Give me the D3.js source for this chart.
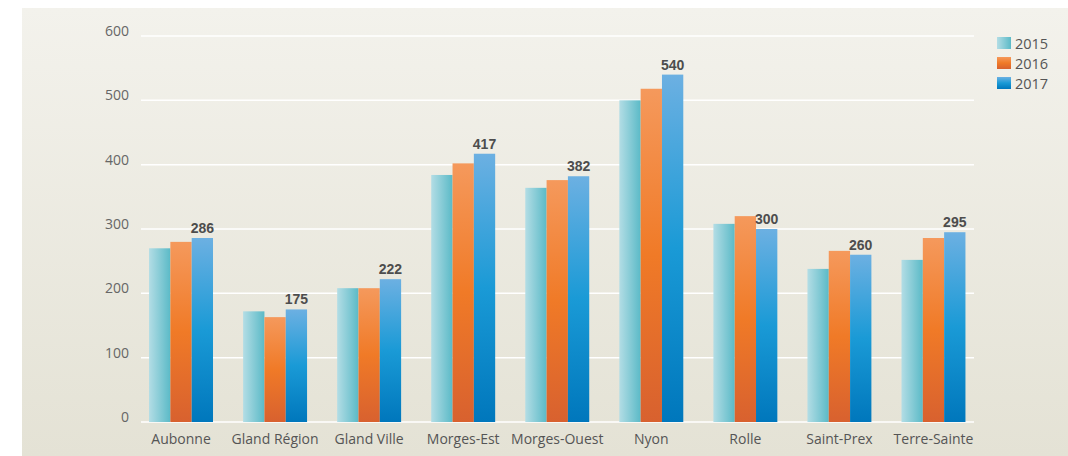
<!DOCTYPE html>
<html>
<head>
<meta charset="utf-8">
<script src="https://cdn.jsdelivr.net/npm/d3@7"></script>
<style>
body { margin: 0; background: #fff; }
svg { display: block; }
</style>
</head>
<body>
<div id="chart"></div>
<script>
var categories = ["Aubonne", "Gland Région", "Gland Ville", "Morges-Est", "Morges-Ouest", "Nyon", "Rolle", "Saint-Prex", "Terre-Sainte"];
var years = ["2015", "2016", "2017"];
var values2015 = [270, 172, 208, 384, 364, 500, 308, 238, 252];
var values2016 = [280, 163, 208, 402, 376, 518, 320, 266, 286];
var values2017 = [286, 175, 222, 417, 382, 540, 300, 260, 295];
var yTicks = [0, 100, 200, 300, 400, 500, 600];

var W = 1068, H = 456;

var svg = d3.select("#chart").append("svg")
  .attr("width", W)
  .attr("height", H);

var defs = svg.append("defs");

// panel background
var bg = defs.append("linearGradient").attr("id", "bg")
  .attr("x1", 0).attr("y1", 0).attr("x2", 0).attr("y2", 1);
bg.append("stop").attr("offset", "0%").attr("stop-color", "#f3f2ec");
bg.append("stop").attr("offset", "100%").attr("stop-color", "#e4e2d5");

var g15 = defs.append("linearGradient").attr("id", "g2015")
  .attr("x1", 0).attr("y1", 0).attr("x2", 1).attr("y2", 0);
g15.append("stop").attr("offset", "0%").attr("stop-color", "#b3dde5");
g15.append("stop").attr("offset", "100%").attr("stop-color", "#5bbac7");

var g16 = defs.append("linearGradient").attr("id", "g2016")
  .attr("x1", 0).attr("y1", 0).attr("x2", 0).attr("y2", 1);
g16.append("stop").attr("offset", "0%").attr("stop-color", "#f5995c");
g16.append("stop").attr("offset", "50%").attr("stop-color", "#f07a27");
g16.append("stop").attr("offset", "100%").attr("stop-color", "#d8612f");

var g17 = defs.append("linearGradient").attr("id", "g2017")
  .attr("x1", 0).attr("y1", 0).attr("x2", 0).attr("y2", 1);
g17.append("stop").attr("offset", "0%").attr("stop-color", "#6cb0e2");
g17.append("stop").attr("offset", "50%").attr("stop-color", "#1a9ad6");
g17.append("stop").attr("offset", "100%").attr("stop-color", "#0077bc");

svg.append("rect")
  .attr("x", 22).attr("y", 8)
  .attr("width", W - 22).attr("height", H - 8)
  .attr("fill", "url(#bg)");

var x0 = d3.scaleBand()
  .domain(categories)
  .range([134, 980.5])
  .paddingInner(0.32)
  .paddingOuter(0.16);

var x1 = d3.scaleBand()
  .domain(years)
  .range([0, x0.bandwidth()]);

var y = d3.scaleLinear()
  .domain([0, 600])
  .range([422, 36]);

// grid
svg.append("g").selectAll("line")
  .data(yTicks)
  .enter().append("line")
  .attr("x1", 141).attr("x2", 974)
  .attr("y1", function(d) { return y(d); })
  .attr("y2", function(d) { return y(d); })
  .attr("stroke", "#ffffff")
  .attr("stroke-width", 1.5);

var yAxis = svg.append("g")
  .attr("transform", "translate(129,-5)")
  .call(d3.axisLeft(y).tickValues(yTicks).tickSize(0).tickPadding(0));
yAxis.select(".domain").remove();
yAxis.selectAll("text")
  .attr("font-family", "'Open Sans', sans-serif")
  .attr("font-size", 14)
  .attr("fill", "#666");

var xAxis = svg.append("g")
  .attr("transform", "translate(0,434)")
  .call(d3.axisBottom(x0).tickSize(0).tickPadding(0));
xAxis.select(".domain").remove();
xAxis.selectAll("text")
  .attr("font-family", "'Open Sans', sans-serif")
  .attr("font-size", 14)
  .attr("fill", "#555");

var rows = categories.map(function(c, i) {
  return {cat: c, vals: [values2015[i], values2016[i], values2017[i]]};
});

var groups = svg.append("g").selectAll("g")
  .data(rows)
  .enter().append("g")
  .attr("transform", function(d) { return "translate(" + x0(d.cat) + ",0)"; });

groups.selectAll("rect")
  .data(function(d) { return years.map(function(yr, j) { return {year: yr, value: d.vals[j]}; }); })
  .enter().append("rect")
  .attr("x", function(d) { return x1(d.year); })
  .attr("y", function(d) { return y(d.value); })
  .attr("width", x1.bandwidth())
  .attr("height", function(d) { return y(0) - y(d.value); })
  .attr("fill", function(d) { return "url(#g" + d.year + ")"; });

groups.append("text")
  .attr("x", x1("2017") + x1.bandwidth() / 2)
  .attr("y", function(d) { return y(d.vals[2]) - 5; })
  .attr("text-anchor", "middle")
  .attr("font-family", "'Liberation Sans', Arial, sans-serif")
  .attr("font-weight", "bold")
  .attr("font-size", 14)
  .attr("fill", "#4d4d4d")
  .text(function(d) { return d.vals[2]; });

// legend
var legend = svg.append("g").selectAll("g")
  .data(years)
  .enter().append("g")
  .attr("transform", function(d, i) { return "translate(997," + (37 + i * 20) + ")"; });

legend.append("rect")
  .attr("width", 14)
  .attr("height", 12)
  .attr("fill", function(d) { return "url(#g" + d + ")"; });

legend.append("text")
  .attr("x", 18)
  .attr("y", 11.5)
  .attr("font-family", "'Open Sans', sans-serif")
  .attr("font-size", 14.5)
  .attr("fill", "#555")
  .text(function(d) { return d; });
</script>
</body>
</html>
